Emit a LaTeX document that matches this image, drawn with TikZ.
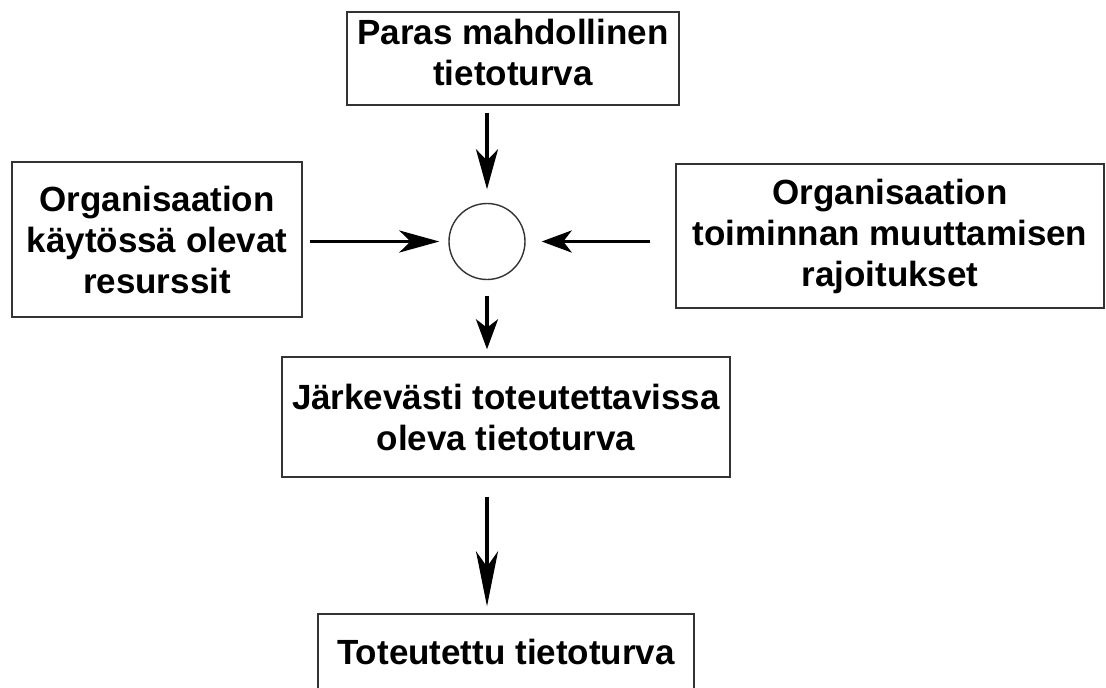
\documentclass[tikz,border=0pt]{standalone}
\usepackage{fontspec}
\setmainfont{Liberation Sans}
\usetikzlibrary{arrows.meta}
\begin{document}
\begin{tikzpicture}[x=1pt,y=-1pt,
  box/.style={draw=black!80, line width=1.4pt, rectangle, inner sep=0pt, align=center,
              font=\bfseries\fontsize{35}{41}\selectfont},
  txt/.style={inner sep=0pt, align=center, font=\bfseries\fontsize{35}{41}\selectfont},
  arr/.style={line width=3.5pt, -{Stealth[length=#1, width=22pt, inset=0.28*#1]}}]
\useasboundingbox[fill=white] (0,0) rectangle (1106,688);
\node[box, minimum width=332pt, minimum height=93pt] (top) at (513,58.5) {};
\node[txt] (toptext) at (513,52) {Paras mahdollinen\\tietoturva};
\node[box, minimum width=290pt, minimum height=155pt] (l) at (157,239.5) {Organisaation\\käytössä olevat\\resurssit};
\node[box, minimum width=428pt, minimum height=144pt] (r) at (890,236) {Organisaation\\toiminnan muuttamisen\\rajoitukset};
\node[circle, draw=black!80, line width=1.4pt, minimum size=76pt, inner sep=0pt] (c) at (487,241.5) {};
\node[box, minimum width=448pt, minimum height=120pt] (m) at (506,417) {Järkevästi toteutettavissa\\oleva tietoturva};
\node[box, minimum width=376pt, minimum height=76pt] (b) at (506,652) {Toteutettu tietoturva};
\draw[arr=40pt, shorten <=7pt, shorten >=13.5pt] (top.south -| c.north) -- (c.north);
\draw[arr=40pt, shorten <=7pt, shorten >=9pt] (l.east |- c.west) -- (c.west);
\draw[arr=30pt, shorten <=25pt, shorten >=16pt] (r.west |- c.east) -- (c.east);
\draw[arr=30pt, shorten <=15.5pt, shorten >=7pt] (c.south) -- (c.south |- m.north);
\draw[arr=55pt, shorten <=19pt, shorten >=7pt] (c.south |- m.south) -- (c.south |- b.north);
\end{tikzpicture}
\end{document}
